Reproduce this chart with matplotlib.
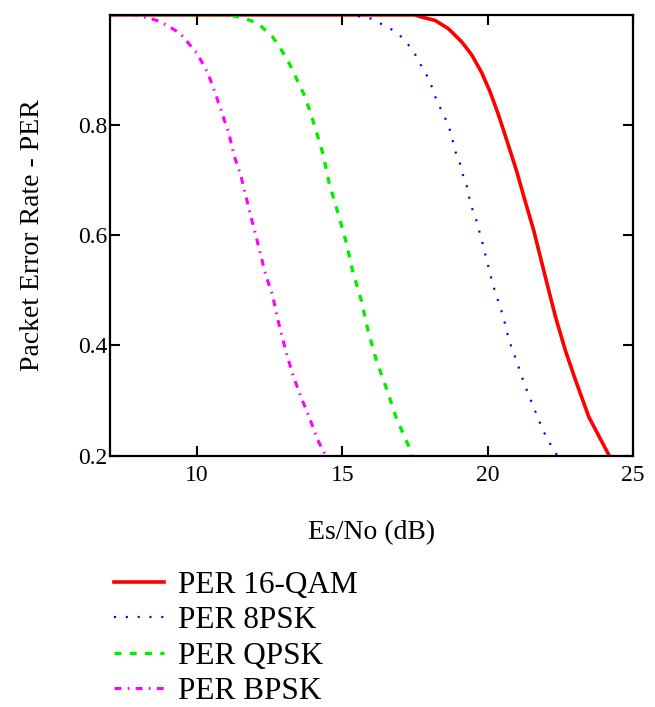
import matplotlib
matplotlib.use("Agg")
import matplotlib.pyplot as plt

plt.rcParams['font.family'] = ['Liberation Serif', 'DejaVu Serif']
plt.rcParams['lines.scale_dashes'] = False

# Es/No (dB) and packet error rate
snr_qam16 = [7, 17.5, 17.73, 18.19, 18.65, 19.11, 19.46, 19.80, 20.09, 20.38,
             20.72, 21.01, 21.30, 21.59, 21.76, 22.05, 22.34, 22.68, 23.03,
             23.49, 24.19]
per_qam16 = [1.0, 1.0, 0.996, 0.990, 0.975, 0.951, 0.927, 0.895, 0.860, 0.818,
             0.763, 0.715, 0.661, 0.609, 0.573, 0.512, 0.452, 0.391, 0.337,
             0.270, 0.200]

snr_8psk = [7, 15.3, 16.0, 16.86, 17.2, 17.49, 17.69, 17.9, 18.07, 18.21,
            18.38, 18.56, 18.71, 18.9, 19.05, 19.15, 19.28, 19.36, 19.46,
            19.6, 19.8, 20.18, 20.55, 20.73, 21.01, 21.27, 21.57, 21.88,
            22.05, 22.22, 22.4]
per_8psk = [1.0, 1.0, 0.993, 0.969, 0.951, 0.930, 0.910, 0.891, 0.871, 0.850,
            0.830, 0.810, 0.790, 0.751, 0.730, 0.710, 0.690, 0.670, 0.650,
            0.630, 0.591, 0.511, 0.451, 0.411, 0.370, 0.330, 0.290, 0.250,
            0.231, 0.216, 0.200]

snr_qpsk = [7, 11.0, 11.5, 12.08, 12.6, 12.94, 13.23, 13.46, 13.69, 13.92,
            14.15, 14.33, 14.55, 14.84, 15.13, 15.36, 15.65, 15.88, 16.17,
            16.52, 16.86, 17.32, 17.37]
per_qpsk = [1.0, 1.0, 0.996, 0.985, 0.960, 0.933, 0.906, 0.880, 0.854, 0.820,
            0.780, 0.748, 0.694, 0.642, 0.588, 0.534, 0.482, 0.428, 0.373,
            0.322, 0.268, 0.213, 0.200]

snr_bpsk = [7, 7.9, 8.6, 9.0, 9.42, 10.0, 10.37, 10.63, 10.86, 11.09, 11.27,
            11.5, 11.67, 11.84, 12.02, 12.19, 12.36, 12.6, 12.74, 12.92,
            13.11, 13.32, 13.57, 13.86, 14.13, 14.42]
per_bpsk = [1.0, 1.0, 0.990, 0.980, 0.966, 0.930, 0.894, 0.857, 0.821, 0.785,
            0.745, 0.709, 0.673, 0.636, 0.600, 0.564, 0.528, 0.491, 0.455,
            0.417, 0.379, 0.343, 0.307, 0.270, 0.231, 0.200]

labels = ['PER 16-QAM', 'PER 8PSK', 'PER QPSK', 'PER BPSK']

fig = plt.figure(figsize=(6.55, 7.07), dpi=100)
ax = fig.add_axes([0.168, 0.3555, 0.798, 0.6235])

ax.plot(snr_qam16, per_qam16, color='#ff0000', lw=2.6, label=labels[0])
ax.plot(snr_8psk, per_8psk, color='#0000ff', lw=1.6, dashes=(1.5, 7),
        label=labels[1])
ax.plot(snr_qpsk, per_qpsk, color='#00ee00', lw=2.4, dashes=(5, 6),
        label=labels[2])
ax.plot(snr_bpsk, per_bpsk, color='#ff00ff', lw=2.2, dashes=(5, 4.5, 1.2, 4.5),
        label=labels[3])

ax.set_xlim(7, 25)
ax.set_ylim(0.2, 1.0)
ax.set_xticks([10, 15, 20, 25])
ax.set_yticks([0.2, 0.4, 0.6, 0.8])
ax.set_yticklabels(['0.2', '0.4', '0.6', '0.8'])

ax.tick_params(direction='in', length=7, width=1.5, top=True, right=True,
               labelsize=17, colors='black')
ax.tick_params(axis='y', pad=2)
ax.tick_params(axis='x', pad=7)
for side in ax.spines.values():
    side.set_linewidth(1.6)

ax.set_xlabel('Es/No (dB)', fontsize=20, labelpad=24)
ax.set_ylabel('Packet Error Rate - PER', fontsize=20, labelpad=24)

handles, _ = ax.get_legend_handles_labels()
fig.legend(handles, labels, loc='upper left', bbox_to_anchor=(0.155, 0.21),
           frameon=False, fontsize=22.5, handlelength=1.6, handletextpad=0.45,
           labelspacing=0.2, borderaxespad=0)

fig.savefig('out.png', dpi=100)
